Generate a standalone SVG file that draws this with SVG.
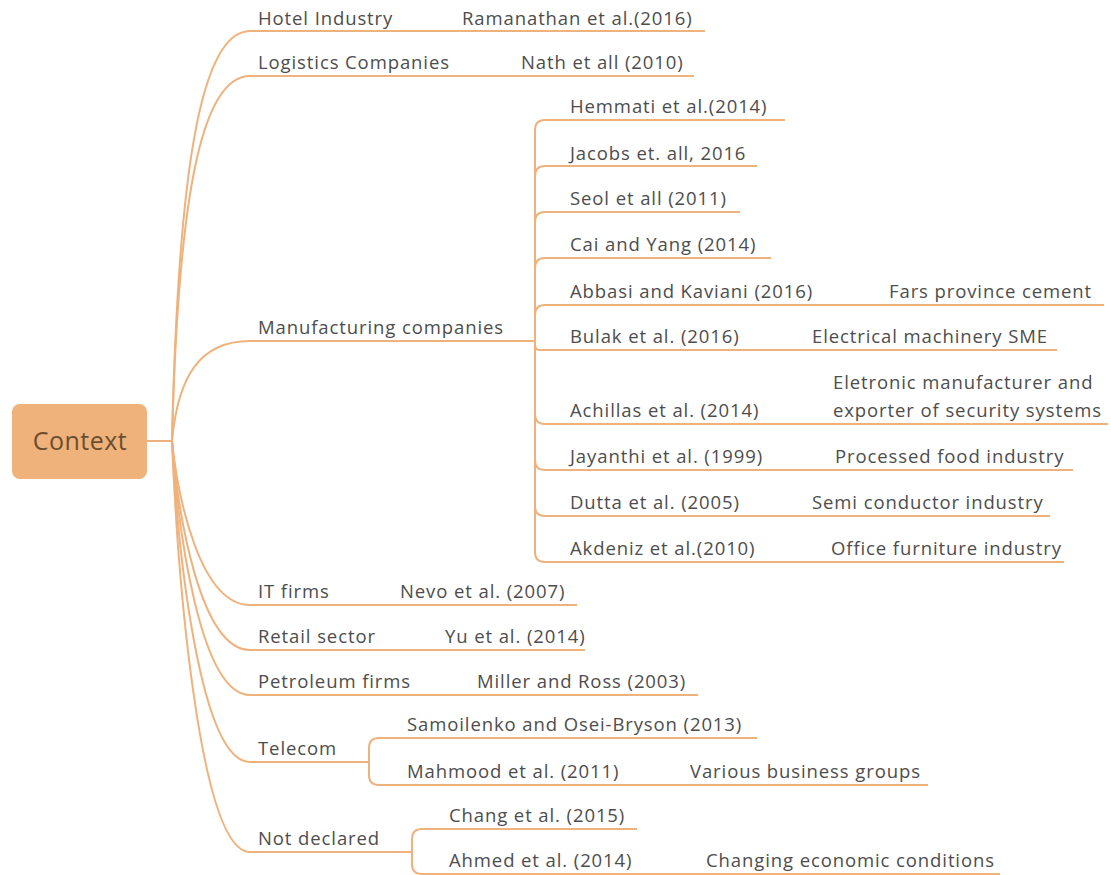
<svg xmlns="http://www.w3.org/2000/svg" width="1111" height="875" viewBox="0 0 1111 875">
  <style>
    .t { font-family: "Open Sans", "Liberation Sans", sans-serif; font-size: 18.5px; letter-spacing: 0.9px; fill: #4d4d4d; }
    .root-t { font-family: "Open Sans", "Liberation Sans", sans-serif; font-size: 25px; letter-spacing: 0.5px; fill: #6b4e2f; }
    .ln { fill: none; stroke: #efb27c; stroke-width: 2; stroke-linecap: round; }
    .ul { fill: none; stroke: #efb27c; stroke-width: 2; }
  </style>
  <rect width="1111" height="875" fill="#ffffff"/>

  <!-- connectors from the root and within the forks -->
  <g id="connectors">
    <path class="ln" d="M147 441 H172"/>
    <!-- root to level one -->
    <path class="ln" d="M172 441 C178 174.5 200 31 250 31"/>
    <path class="ln" d="M172 441 C178 203.5 200 76 250 76"/>
    <path class="ln" d="M172 441 C178 376 200 341 250 341"/>
    <path class="ln" d="M172 441 C178 498.4 200 605 250 605"/>
    <path class="ln" d="M172 441 C178 514 200 650 250 650"/>
    <path class="ln" d="M172 441 C178 529.7 200 695 250 695"/>
    <path class="ln" d="M172 441 C178 553 200 762 250 762"/>
    <path class="ln" d="M172 441 C178 584 200 852 250 852"/>
    <!-- manufacturing fork -->
    <path class="ln" d="M510 341 H535"/>
    <path class="ln" d="M535 341 V130 Q535 120 545 120"/>
    <path class="ln" d="M535 341 V176 Q535 166 545 166"/>
    <path class="ln" d="M535 341 V222 Q535 212 545 212"/>
    <path class="ln" d="M535 341 V268 Q535 258 545 258"/>
    <path class="ln" d="M535 341 V315 Q535 305 545 305"/>
    <path class="ln" d="M535 341 V345 Q535 350 540 350"/>
    <path class="ln" d="M535 341 V414 Q535 424 545 424"/>
    <path class="ln" d="M535 341 V460 Q535 470 545 470"/>
    <path class="ln" d="M535 341 V506 Q535 516 545 516"/>
    <path class="ln" d="M535 341 V552 Q535 562 545 562"/>
    <!-- telecom fork -->
    <path class="ln" d="M350 762 H369"/>
    <path class="ln" d="M369 762 V748 Q369 738 379 738"/>
    <path class="ln" d="M369 762 V775 Q369 785 379 785"/>
    <!-- not declared fork -->
    <path class="ln" d="M390 852 H412"/>
    <path class="ln" d="M412 852 V839 Q412 829 422 829"/>
    <path class="ln" d="M412 852 V864 Q412 874 422 874"/>
  </g>

  <g id="root">
    <rect x="12" y="404" width="135" height="75" rx="8" fill="#efb27b"/>
    <text class="root-t" x="80" y="450" text-anchor="middle">Context</text>
  </g>

  <g id="hotel">
    <path class="ul" d="M250 31 H705"/>
    <text class="t" x="258" y="25">Hotel Industry</text>
    <text class="t" x="462" y="25">Ramanathan et al.(2016)</text>
  </g>
  <g id="logistics">
    <path class="ul" d="M250 76 H694"/>
    <text class="t" x="258" y="69">Logistics Companies</text>
    <text class="t" x="521" y="69">Nath et all (2010)</text>
  </g>
  <g id="manufacturing">
    <path class="ul" d="M250 341 H510"/>
    <text class="t" x="258" y="334">Manufacturing companies</text>
  </g>
  <g id="hemmati">
    <path class="ul" d="M545 120 H785"/>
    <text class="t" x="570" y="113">Hemmati et al.(2014)</text>
  </g>
  <g id="jacobs">
    <path class="ul" d="M545 166 H757"/>
    <text class="t" x="570" y="160">Jacobs et. all, 2016</text>
  </g>
  <g id="seol">
    <path class="ul" d="M545 212 H740"/>
    <text class="t" x="570" y="205">Seol et all (2011)</text>
  </g>
  <g id="cai">
    <path class="ul" d="M545 258 H771"/>
    <text class="t" x="570" y="251">Cai and Yang (2014)</text>
  </g>
  <g id="abbasi">
    <path class="ul" d="M545 305 H1104"/>
    <text class="t" x="570" y="298">Abbasi and Kaviani (2016)</text>
    <text class="t" x="889" y="298">Fars province cement</text>
  </g>
  <g id="bulak">
    <path class="ul" d="M540 350 H1057"/>
    <text class="t" x="570" y="343">Bulak et al. (2016)</text>
    <text class="t" x="812" y="343">Electrical machinery SME</text>
  </g>
  <g id="achillas">
    <path class="ul" d="M545 424 H1108"/>
    <text class="t" x="570" y="417">Achillas et al. (2014)</text>
    <text class="t" x="833" y="389">Eletronic manufacturer and</text>
    <text class="t" x="833" y="417">exporter of security systems</text>
  </g>
  <g id="jayanthi">
    <path class="ul" d="M545 470 H1073"/>
    <text class="t" x="570" y="463">Jayanthi et al. (1999)</text>
    <text class="t" x="835" y="463">Processed food industry</text>
  </g>
  <g id="dutta">
    <path class="ul" d="M545 516 H1050"/>
    <text class="t" x="570" y="509">Dutta et al. (2005)</text>
    <text class="t" x="812" y="509">Semi conductor industry</text>
  </g>
  <g id="akdeniz">
    <path class="ul" d="M545 562 H1064"/>
    <text class="t" x="570" y="555">Akdeniz et al.(2010)</text>
    <text class="t" x="831" y="555">Office furniture industry</text>
  </g>

  <g id="it-firms">
    <path class="ul" d="M250 605 H577"/>
    <text class="t" x="258" y="598">IT firms</text>
    <text class="t" x="400" y="598">Nevo et al. (2007)</text>
  </g>
  <g id="retail">
    <path class="ul" d="M250 650 H585"/>
    <text class="t" x="258" y="643">Retail sector</text>
    <text class="t" x="445" y="643">Yu et al. (2014)</text>
  </g>
  <g id="petroleum">
    <path class="ul" d="M250 695 H698"/>
    <text class="t" x="258" y="688">Petroleum firms</text>
    <text class="t" x="477" y="688">Miller and Ross (2003)</text>
  </g>
  <g id="telecom">
    <path class="ul" d="M250 762 H350"/>
    <text class="t" x="258" y="755">Telecom</text>
  </g>
  <g id="samoilenko">
    <path class="ul" d="M379 738 H757"/>
    <text class="t" x="407" y="731">Samoilenko and Osei-Bryson (2013)</text>
  </g>
  <g id="mahmood">
    <path class="ul" d="M379 785 H928"/>
    <text class="t" x="407" y="778">Mahmood et al. (2011)</text>
    <text class="t" x="690" y="778">Various business groups</text>
  </g>
  <g id="not-declared">
    <path class="ul" d="M250 852 H390"/>
    <text class="t" x="258" y="845">Not declared</text>
  </g>
  <g id="chang">
    <path class="ul" d="M422 829 H637"/>
    <text class="t" x="449" y="822">Chang et al. (2015)</text>
  </g>
  <g id="ahmed">
    <path class="ul" d="M422 874 H1000"/>
    <text class="t" x="449" y="867">Ahmed et al. (2014)</text>
    <text class="t" x="706" y="867">Changing economic conditions</text>
  </g>
</svg>
